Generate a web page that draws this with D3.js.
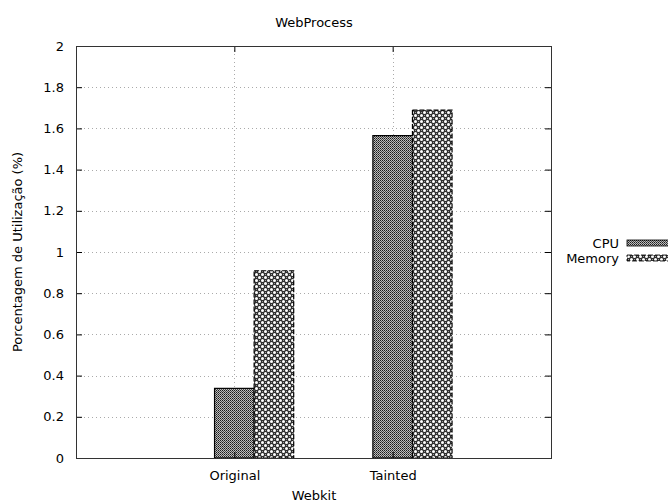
<!DOCTYPE html>
<html>
<head>
<meta charset="utf-8">
<script src="https://cdn.jsdelivr.net/npm/d3@7"></script>
<style>
  body { margin: 0; background: #fff; }
  text { font-family: "DejaVu Sans", sans-serif; font-size: 13px; fill: #000; }
</style>
</head>
<body>
<div id="canvas"></div>
<script>
(function(){

    // data
    var categories = ["Original", "Tainted"];
    var series = ["CPU", "Memory"];
    var cpuValues = [0.338, 1.565];
    var memoryValues = [0.909, 1.689];
    var yTicks = [0, 0.2, 0.4, 0.6, 0.8, 1, 1.2, 1.4, 1.6, 1.8, 2];

    var width = 668, height = 502;
    var left = 76, right = 551, top = 46, bottom = 458;

    var svg = d3.select("#canvas").append("svg")
        .attr("width", width).attr("height", height);

    var defs = svg.append("defs");

    // fine checker for CPU
    var p1 = defs.append("pattern").attr("id", "patCpu")
        .attr("patternUnits", "userSpaceOnUse").attr("width", 2).attr("height", 2);
    p1.append("rect").attr("width", 2).attr("height", 2).attr("fill", "#bdbdbd");
    p1.append("rect").attr("width", 1).attr("height", 1).attr("fill", "#1a1a1a");
    p1.append("rect").attr("x", 1).attr("y", 1).attr("width", 1).attr("height", 1).attr("fill", "#4a4a4a");

    // dotted checker for Memory
    var p2 = defs.append("pattern").attr("id", "patMem")
        .attr("patternUnits", "userSpaceOnUse").attr("width", 6).attr("height", 6);
    p2.append("rect").attr("width", 6).attr("height", 6).attr("fill", "#2e2e2e");
    p2.append("circle").attr("cx", 1.5).attr("cy", 1.5).attr("r", 1.5).attr("fill", "#fff");
    p2.append("circle").attr("cx", 4.5).attr("cy", 4.5).attr("r", 1.5).attr("fill", "#fff");
    p2.append("rect").attr("x", 4).attr("y", 1).attr("width", 1).attr("height", 1).attr("fill", "#999");
    p2.append("rect").attr("x", 1).attr("y", 4).attr("width", 1).attr("height", 1).attr("fill", "#999");

    var x = d3.scaleLinear().domain([-1, 2]).range([left, right]);
    var y = d3.scaleLinear().domain([0, 2]).range([bottom, top]);
    var barW = 0.25;

    // grid
    var grid = svg.append("g").attr("stroke", "#aaa").attr("stroke-dasharray", "1,3").attr("stroke-width", 1);
    yTicks.slice(1, -1).forEach(function(t){
        grid.append("line").attr("x1", left).attr("x2", right)
            .attr("y1", Math.round(y(t)) + 0.5).attr("y2", Math.round(y(t)) + 0.5);
    });
    categories.forEach(function(c, i){
        grid.append("line").attr("y1", top).attr("y2", bottom)
            .attr("x1", Math.round(x(i)) + 0.5).attr("x2", Math.round(x(i)) + 0.5);
    });

    // bars
    var seriesData = [cpuValues, memoryValues];
    var fills = ["url(#patCpu)", "url(#patMem)"];
    seriesData.forEach(function(vals, s){
        svg.append("g").selectAll("rect").data(vals).enter().append("rect")
            .attr("x", function(d, i){ return x(i - barW / 2 + s * barW); })
            .attr("width", x(barW) - x(0))
            .attr("y", function(d){ return y(d); })
            .attr("height", function(d){ return y(0) - y(d); })
            .attr("fill", fills[s])
            .attr("stroke", "#000")
            .attr("stroke-width", 1.2)
            .attr("stroke-dasharray", s === 1 ? "5,2" : null);
    });

    // axes with mirrored inward ticks
    var yAxisL = d3.axisLeft(y).tickValues(yTicks).tickSize(-6).tickPadding(12)
        .tickFormat(function(d){ return String(d); });
    var yAxisR = d3.axisRight(y).tickValues(yTicks).tickSize(-6).tickFormat("");
    var xAxisB = d3.axisBottom(x).tickValues(d3.range(categories.length)).tickSize(-6).tickPadding(13)
        .tickFormat(function(i){ return categories[i]; });
    var xAxisT = d3.axisTop(x).tickValues(d3.range(categories.length)).tickSize(-6).tickFormat("");

    function style(g){
        g.select(".domain").remove();
        g.selectAll("line").attr("stroke", "#000");
        g.selectAll("text").style("font-family", "DejaVu Sans, sans-serif").style("font-size", "13px").attr("fill", "#000");
    }
    svg.append("g").attr("transform", "translate(" + left + ",0)").call(yAxisL).call(style);
    svg.append("g").attr("transform", "translate(" + right + ",0)").call(yAxisR).call(style);
    svg.append("g").attr("transform", "translate(0," + bottom + ")").call(xAxisB).call(style);
    svg.append("g").attr("transform", "translate(0," + top + ")").call(xAxisT).call(style);

    // border
    svg.append("rect").attr("x", left + 0.5).attr("y", top + 0.5)
        .attr("width", right - left).attr("height", bottom - top)
        .attr("fill", "none").attr("stroke", "#333").attr("stroke-width", 1);

    // labels
    svg.append("text").attr("x", 314).attr("y", 27).attr("text-anchor", "middle").text("WebProcess");
    svg.append("text").attr("x", 314).attr("y", 500).attr("text-anchor", "middle").text("Webkit");
    svg.append("text").attr("transform", "translate(22," + ((top + bottom) / 2) + ") rotate(-90)")
        .attr("text-anchor", "middle").text("Porcentagem de Utilização (%)");

    // legend
    var legend = svg.append("g");
    series.forEach(function(s, i){
        var ly = 246 + i * 15;
        legend.append("text").attr("x", 619).attr("y", ly + 2).attr("text-anchor", "end").text(s);
        legend.append("rect").attr("x", 627).attr("y", ly - 6).attr("width", 44).attr("height", 6)
            .attr("fill", fills[i]).attr("stroke", "#000").attr("stroke-width", 0.8)
            .attr("stroke-dasharray", i === 1 ? "5,2" : null);
    });

})();
</script>
</body>
</html>
